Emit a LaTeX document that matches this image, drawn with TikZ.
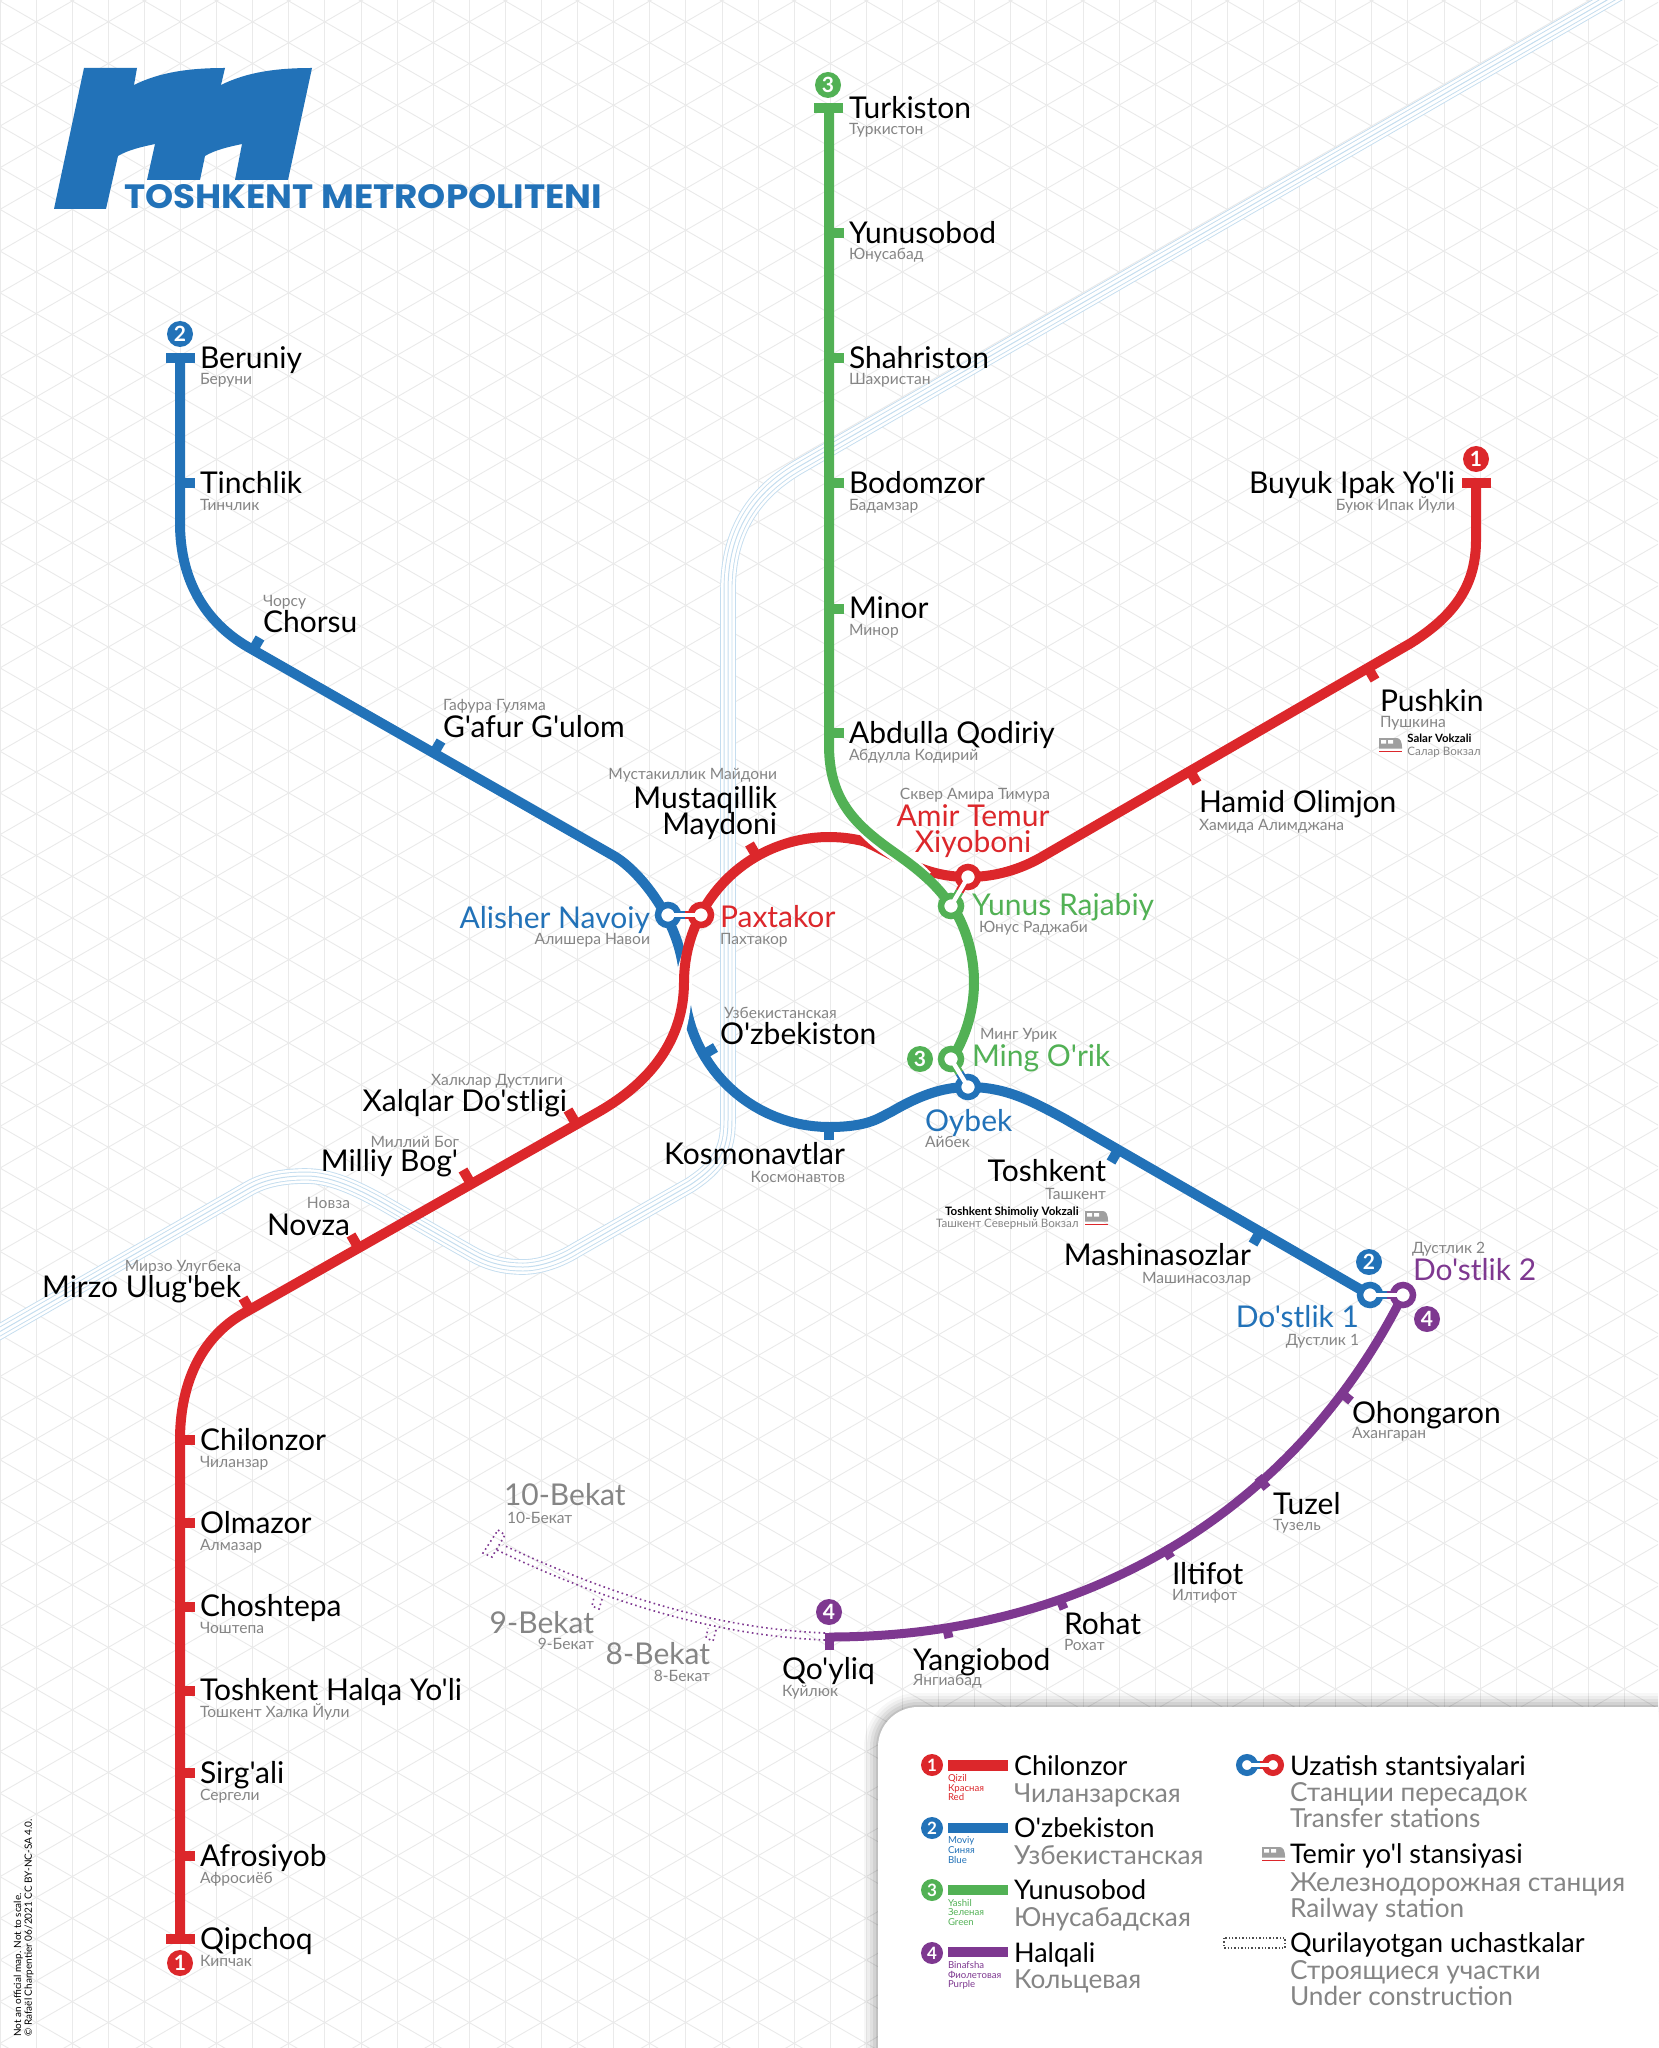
\documentclass[tikz,border=0pt]{standalone}
\usepackage{graphicx}
\usepackage{fontspec}
\setmainfont{Lato}[Ligatures=TeXOff]
\newfontfamily\logofont{Poppins}
\usetikzlibrary{calc}
\definecolor{tred}{HTML}{DC272B}
\definecolor{tblue}{HTML}{2272B8}
\definecolor{tgreen}{HTML}{52B155}
\definecolor{tpurple}{HTML}{7E3890}
\definecolor{tgray}{HTML}{858585}
\definecolor{gridc}{HTML}{EAEAEA}
\definecolor{riverc}{HTML}{C4DDEF}
\tikzset{
  nm/.style={inner sep=0,outer sep=0,font=\fontsize{15pt}{15pt}\selectfont,text=black},
  lgnm/.style={inner sep=0,outer sep=0,font=\fontsize{13.5pt}{14pt}\selectfont,text=black},
  sb/.style={inner sep=0,outer sep=0,font=\fontsize{7.8pt}{8pt}\selectfont,text=tgray},
  lgru/.style={inner sep=0,outer sep=0,font=\fontsize{13.1pt}{14pt}\selectfont,text=tgray},
  lgmini/.style={inner sep=0,outer sep=0,font=\fontsize{4.8pt}{5pt}\selectfont},
  bul/.style={circle,fill=#1,inner sep=0,outer sep=0,minimum size=13pt,text=white,font=\fontsize{10.5pt}{11pt}\selectfont\bfseries},
  bulsmall/.style={circle,fill=#1,inner sep=0,outer sep=0,minimum size=11pt,text=white,font=\fontsize{8.5pt}{9pt}\selectfont\bfseries},
  ring/.style={circle,draw=#1,fill=white,line width=3.25pt,inner sep=0,outer sep=0,minimum size=10pt},
  metro/.style={draw=#1,line width=5pt},
  stick/.style={draw=#1,line width=5pt},
  pstick/.style={draw=tpurple,line width=4.5pt},
  casing/.style={draw=white,line width=8pt},
  linkcore/.style={draw=white,line width=2.2pt},
  linkedge/.style={draw=#1,line width=4.2pt},
  dots/.style={draw=tpurple,line width=.8pt,dash pattern=on .8pt off 1.6pt},
  riv/.style={draw=riverc,line width=#1,line join=round},
  rivw/.style={draw=white,line width=#1,line join=round},
}
\newcommand\riverpath{(1640,-19) -- (800,466) .. controls (755,492) and (728,530) .. (728,590) -- (728,1120) .. controls (728,1150) and (720,1165) .. (690,1185) -- (576,1250) .. controls (560,1260) and (540,1267) .. (523,1267) .. controls (490,1267) and (475,1255) .. (460,1247) -- (385,1204) .. controls (355,1187) and (330,1176) .. (306,1176) .. controls (285,1176) and (265,1179) .. (248,1189) -- (-20,1343)}
\newcommand\legendpanel{(878,2070) -- (878,1747) .. controls (878,1725) and (896,1707) .. (918,1707) -- (1680,1707)}
\newcommand\trainicon[2]{%
  \begin{scope}[shift={(#1,#2)}]
    \fill[gray!75] (0,0) -- (18,0) .. controls (21,0) and (23,4) .. (23,9) -- (23,10.5) -- (0,10.5) -- cycle;
    \fill[white] (2,2) rectangle (7,5.5) (9,2) rectangle (14,5.5);
    \fill[tred] (0,12.5) rectangle (23,14);
  \end{scope}}
\begin{document}
\begin{tikzpicture}[x=.5pt,y=-.5pt]
\useasboundingbox (0,0) rectangle (1658,2048);
\clip (0,0) rectangle (1658,2048);
\fill[white] (0,0) rectangle (1658,2048);
% grid
\begin{scope}[draw=gridc,line width=.45pt]
\foreach \k in {0,...,46} {\draw ({36.1*\k},0) -- ({36.1*\k},2048);}
\foreach \k in {-26,...,50} {\draw (-10,{1+.5774*(-82.2)+41.68*\k}) -- (1668,{1+.5774*(1595.8)+41.68*\k});}
\foreach \k in {-2,...,75} {\draw (-10,{1+.5774*(82.2)+41.68*\k}) -- (1668,{1-.5774*(1595.8)+41.68*\k});}
\end{scope}
% river
\draw[riv=7.8pt] \riverpath;
\draw[rivw=6.9pt] \riverpath;
\draw[riv=4.4pt] \riverpath;
\draw[rivw=3.5pt] \riverpath;
\draw[riv=.5pt] \riverpath;
% logo
\fill[tblue] (84,68) -- (137,68) -- (134,85) .. controls (160,72) and (190,68) .. (225,68) -- (221,85) .. controls (247,72) and (277,68) .. (312,68) -- (288,180) -- (235,180) -- (242,144) .. controls (228,147) and (215,150) .. (205,156) -- (200,180) -- (147,180) -- (155,144) .. controls (141,147) and (128,150) .. (118,156) -- (106,209) -- (54,209) -- cycle;
\node[inner sep=0,outer sep=0,anchor=base west,text=tblue] (logotext) at (124,209) {\resizebox{239pt}{12pt}{\logofont\bfseries TOSHKENT METROPOLITENI}};
% blue line
\draw[metro=tblue] (180,358) -- (180,523) .. controls (180,580) and (205,622) .. (248,647) -- (614,856) .. controls (640,871) and (684,925) .. (684,982)
  -- plot[domain=180:90,samples=30] ({829+145*cos(\x)},{982+145*sin(\x)})
  .. controls (870,1127) and (880,1117) .. (891,1112) .. controls (915,1098) and (940,1087) .. (968,1087)
  .. controls (1005,1087) and (1030,1100) .. (1065,1119) -- (1370,1295);
\draw[stick=tblue] (166,358) -- (195,358);
\draw[stick=tblue] (180,483) -- (195,483);
\draw[stick=tblue] (253,650) -- (260,638);
\draw[stick=tblue] (434,753) -- (441,741);
\draw[stick=tblue] (703.4,1054.5) -- (715.5,1047.5);
\draw[stick=tblue] (829,1127) -- (829,1140);
\draw[stick=tblue] (1118,1150) -- (1111,1162);
\draw[stick=tblue] (1260,1232) -- (1253,1244);
% red line
\draw[casing] (694,945) .. controls (686,965) and (684,975) .. (684,982) .. controls (684,1000) and (682,1015) .. (678,1030);
\draw[metro=tred] (1476,483) -- (1476,540) .. controls (1476,585) and (1455,615) .. (1411,643) -- (1040,858)
  .. controls (1015,872) and (990,877) .. (968,877) .. controls (925,877) and (900,858) .. (868,843)
  -- plot[domain=-74.3:-180,samples=40] ({829+145*cos(\x)},{982+145*sin(\x)})
  .. controls (684,1040) and (650,1082) .. (600,1111) -- (244,1313) .. controls (200,1338) and (180,1385) .. (180,1440) -- (180,1940);
\draw[stick=tred] (1462,483) -- (1491,483);
\draw[stick=tred] (1190,771) -- (1197,783);
\draw[stick=tred] (1368,668) -- (1375,680);
\draw[stick=tred] (756.5,856) -- (749.5,844);
\draw[stick=tred] (575,1122) -- (568,1110);
\draw[stick=tred] (470,1182) -- (463,1170);
\draw[stick=tred] (358,1247) -- (351,1235);
\draw[stick=tred] (250,1310) -- (243,1298);
\foreach \y in {1440,1523,1607,1691,1773,1856} {\draw[stick=tred] (180,\y) -- (195,\y);}
\draw[stick=tred] (166,1939) -- (195,1939);
% green line
\draw[casing] (862,825) .. controls (875,840) and (885,846) .. (895,853) .. controls (905,860) and (915,867) .. (925,878);
\draw[metro=tgreen] (829,108) -- (829,745) .. controls (829,800) and (855,825) .. (895,853) .. controls (915,867) and (937,884) .. (951,906)
  -- plot[domain=-32:32,samples=30] ({829+145*cos(\x)},{982+145*sin(\x)});
\draw[stick=tgreen] (814,108) -- (843,108);
\foreach \y in {233,358,483,609,733} {\draw[stick=tgreen] (829,\y) -- (844,\y);}
% purple line
\draw[draw=tpurple,line width=4.5pt] (829,1637) .. controls (1100,1637) and (1300,1500) .. (1403,1295);
\draw[pstick] (829,1633) -- (829,1650);
\draw[pstick] (1340,1392) -- (1351,1401);
\draw[pstick] (1258,1477) -- (1267,1488);
\draw[pstick] (1164,1547) -- (1171,1558);
\draw[pstick] (1059,1597) -- (1064,1609);
\draw[pstick] (946,1625) -- (949,1638);
% under construction
\draw[dots] (825,1633) .. controls (700,1628) and (590,1585) .. (503,1545);
\draw[dots] (825,1640) .. controls (700,1635) and (585,1592) .. (497,1550);
\draw[dots] (498,1530) -- (505,1535) -- (492,1557) -- (483,1553) -- cycle;
\draw[dots] (602,1599) -- (599,1609) -- (592,1606) -- (594,1597);
\draw[dots] (716,1630) -- (713,1641) -- (706,1638) -- (708,1628);
% transfers
\coordinate (linkA) at (684.5,915);
\coordinate (linkB) at (959.5,891.5);
\coordinate (linkC) at (959.5,1073);
\coordinate (linkD) at (1386.5,1295);
\draw[linkedge=tblue] (668,915) -- (linkA);
\draw[linkedge=tred] (linkA) -- (701,915);
\draw[linkedge=tred] (968,877) -- (linkB);
\draw[linkedge=tgreen] (linkB) -- (951,906);
\draw[linkedge=tgreen] (951,1059) -- (linkC);
\draw[linkedge=tblue] (linkC) -- (968,1087);
\draw[linkedge=tblue] (1370,1295) -- (linkD);
\draw[linkedge=tpurple] (linkD) -- (1403,1295);
\node[ring=tblue] (alisher) at (668,915) {};
\node[ring=tred] (paxtakor) at (701,915) {};
\node[ring=tred] (amir) at (968,877) {};
\node[ring=tgreen] (yunus) at (951,906) {};
\node[ring=tgreen] (ming) at (951,1059) {};
\node[ring=tblue] (oybek) at (968,1087) {};
\node[ring=tblue] (dostlikA) at (1370,1295) {};
\node[ring=tpurple] (dostlikB) at (1403,1295) {};
\draw[linkcore] (alisher.center) -- (paxtakor.center);
\draw[linkcore] (amir.center) -- (yunus.center);
\draw[linkcore] (ming.center) -- (oybek.center);
\draw[linkcore] (dostlikA.center) -- (dostlikB.center);
% bullets
\node[bul=tgreen] (bg1) at (828,85) {3};
\node[bul=tblue] (bb1) at (180,334) {2};
\node[bul=tred] (br1) at (1476,459) {1};
\node[bul=tred] (br2) at (180,1963) {1};
\node[bul=tgreen] (bg2) at (920,1059) {3};
\node[bul=tblue] (bb2) at (1369,1262) {2};
\node[bul=tpurple] (bp1) at (1427,1319) {4};
\node[bul=tpurple] (bp2) at (829,1612) {4};
% line 3 labels
\node[nm,anchor=base west] (n1) at (849,119) {Turkiston};
\node[sb,anchor=base west] (s1) at (849,135) {Туркистон};
\node[nm,anchor=base west] (n2) at (849,244) {Yunusobod};
\node[sb,anchor=base west] (s2) at (849,260) {Юнусабад};
\node[nm,anchor=base west] (n3) at (849,369) {Shahriston};
\node[sb,anchor=base west] (s3) at (849,385) {Шахристан};
\node[nm,anchor=base west] (n4) at (849,494) {Bodomzor};
\node[sb,anchor=base west] (s4) at (849,510) {Бадамзар};
\node[nm,anchor=base west] (n5) at (849,618) {Minor};
\node[sb,anchor=base west] (s5) at (849,635) {Минор};
\node[nm,anchor=base west] (n6) at (849,743) {Abdulla Qodiriy};
\node[sb,anchor=base west] (s6) at (849,760) {Абдулла Кодирий};
% line 2 labels
\node[nm,anchor=base west] (n7) at (200,369) {Beruniy};
\node[sb,anchor=base west] (s7) at (200,385) {Беруни};
\node[nm,anchor=base west] (n8) at (200,494) {Tinchlik};
\node[sb,anchor=base west] (s8) at (200,510) {Тинчлик};
\node[nm,anchor=base west] (n9) at (263,632) {Chorsu};
\node[sb,anchor=base west] (s9) at (263,606) {Чорсу};
\node[nm,anchor=base west] (n10) at (443,737) {G'afur G'ulom};
\node[sb,anchor=base west] (s10) at (443,710) {Гафура Гуляма};
\node[nm,anchor=base east,text=tblue] (n11) at (650,928) {Alisher Navoiy};
\node[sb,anchor=base east] (s11) at (650,944) {Алишера Навои};
\node[nm,anchor=base west] (n12) at (720,1044) {O'zbekiston};
\node[sb,anchor=base west] (s12) at (724,1018) {Узбекистанская};
\node[nm,anchor=base east] (n13) at (845,1164) {Kosmonavtlar};
\node[sb,anchor=base east] (s13) at (845,1182) {Космонавтов};
\node[nm,anchor=base west,text=tblue] (n14) at (925,1131) {Oybek};
\node[sb,anchor=base west] (s14) at (925,1147) {Айбек};
\node[nm,anchor=base east] (n15) at (1106,1181) {Toshkent};
\node[sb,anchor=base east] (s15) at (1106,1199) {Ташкент};
\node[inner sep=0,anchor=base east,font=\fontsize{5.8pt}{6pt}\selectfont\bfseries] (n16) at (1079,1215) {Toshkent Shimoliy Vokzali};
\node[inner sep=0,anchor=base east,text=tgray,font=\fontsize{5.8pt}{6pt}\selectfont] (s16) at (1079,1227) {Ташкент Северный Вокзал};
\trainicon{1085}{1211}
\node[nm,anchor=base east] (n17) at (1251,1265) {Mashinasozlar};
\node[sb,anchor=base east] (s17) at (1251,1283) {Машинасозлар};
\node[nm,anchor=base east,text=tblue] (n18) at (1359,1327) {Do'stlik 1};
\node[sb,anchor=base east] (s18) at (1359,1345) {Дустлик 1};
% line 1 labels
\node[nm,anchor=base east] (n19) at (1455,494) {Buyuk Ipak Yo'li};
\node[sb,anchor=base east] (s19) at (1455,510) {Буюк Ипак Йули};
\node[nm,anchor=base west] (n20) at (1380,711) {Pushkin};
\node[sb,anchor=base west] (s20) at (1380,727) {Пушкина};
\node[inner sep=0,anchor=base west,font=\fontsize{5.7pt}{6pt}\selectfont\bfseries] (n21) at (1407,742) {Salar Vokzali};
\node[inner sep=0,anchor=base west,text=tgray,font=\fontsize{5.8pt}{6pt}\selectfont] (s21) at (1407,755) {Салар Вокзал};
\trainicon{1379}{738}
\node[nm,anchor=base west] (n22) at (1199,812) {Hamid Olimjon};
\node[sb,anchor=base west] (s22) at (1199,830) {Хамида Алимджана};
\node[nm,anchor=base,text=tred] (n23) at (973,826) {Amir Temur};
\node[nm,anchor=base,text=tred] (n24) at (973,852) {Xiyoboni};
\node[sb,anchor=base] (s23) at (975,799) {Сквер Амира Тимура};
\node[nm,anchor=base east] (n25) at (777,808) {Mustaqillik};
\node[nm,anchor=base east] (n26) at (777,834) {Maydoni};
\node[sb,anchor=base east] (s25) at (777,779) {Мустакиллик Майдони};
\node[nm,anchor=base west,text=tred] (n27) at (720,927) {Paxtakor};
\node[sb,anchor=base west] (s27) at (720,944) {Пахтакор};
\node[nm,anchor=base east] (n28) at (567,1111) {Xalqlar Do'stligi};
\node[sb,anchor=base east] (s28) at (563,1085) {Халклар Дустлиги};
\node[nm,anchor=base east] (n29) at (458,1171) {Milliy Bog'};
\node[sb,anchor=base east] (s29) at (459,1147) {Миллий Бог};
\node[nm,anchor=base east] (n30) at (350,1235) {Novza};
\node[sb,anchor=base east] (s30) at (350,1208) {Новза};
\node[nm,anchor=base east] (n31) at (241,1297) {Mirzo Ulug'bek};
\node[sb,anchor=base east] (s31) at (241,1271) {Мирзо Улугбека};
\node[nm,anchor=base west] (n32) at (200,1450) {Chilonzor};
\node[sb,anchor=base west] (s32) at (200,1467) {Чиланзар};
\node[nm,anchor=base west] (n33) at (200,1533) {Olmazor};
\node[sb,anchor=base west] (s33) at (200,1550) {Алмазар};
\node[nm,anchor=base west] (n34) at (200,1616) {Choshtepa};
\node[sb,anchor=base west] (s34) at (200,1633) {Чоштепа};
\node[nm,anchor=base west] (n35) at (200,1700) {Toshkent Halqa Yo'li};
\node[sb,anchor=base west] (s35) at (200,1717) {Тошкент Халка Йули};
\node[nm,anchor=base west] (n36) at (200,1783) {Sirg'ali};
\node[sb,anchor=base west] (s36) at (200,1800) {Сергели};
\node[nm,anchor=base west] (n37) at (200,1866) {Afrosiyob};
\node[sb,anchor=base west] (s37) at (200,1883) {Афросиёб};
\node[nm,anchor=base west] (n38) at (200,1949) {Qipchoq};
\node[sb,anchor=base west] (s38) at (200,1966) {Кипчак};
% line 3 ring labels
\node[nm,anchor=base west,text=tgreen] (n39) at (972,915) {Yunus Rajabiy};
\node[sb,anchor=base west] (s39) at (979,932) {Юнус Раджаби};
\node[nm,anchor=base west,text=tgreen] (n40) at (972,1066) {Ming O'rik};
\node[sb,anchor=base west] (s40) at (980,1039) {Минг Урик};
% line 4 labels
\node[nm,anchor=base west,text=tpurple] (n41) at (1413,1280) {Do'stlik 2};
\node[sb,anchor=base west] (s41) at (1412,1253) {Дустлик 2};
\node[nm,anchor=base west] (n42) at (1352,1423) {Ohongaron};
\node[sb,anchor=base west] (s42) at (1352,1438) {Ахангаран};
\node[nm,anchor=base west] (n43) at (1273,1514) {Tuzel};
\node[sb,anchor=base west] (s43) at (1273,1530) {Тузель};
\node[nm,anchor=base west] (n44) at (1172,1584) {Iltifot};
\node[sb,anchor=base west] (s44) at (1172,1600) {Илтифот};
\node[nm,anchor=base west] (n45) at (1064,1634) {Rohat};
\node[sb,anchor=base west] (s45) at (1064,1650) {Рохат};
\node[nm,anchor=base west] (n46) at (913,1670) {Yangiobod};
\node[sb,anchor=base west] (s46) at (913,1685) {Янгиабад};
\node[nm,anchor=base west] (n47) at (782,1679) {Qo'yliq};
\node[sb,anchor=base west] (s47) at (782,1696) {Куйлюк};
\node[nm,anchor=base west,text=tgray] (n48) at (504,1505) {10-Bekat};
\node[sb,anchor=base west] (s48) at (507,1523) {10-Бекат};
\node[nm,anchor=base east,text=tgray] (n49) at (594,1633) {9-Bekat};
\node[sb,anchor=base east] (s49) at (594,1649) {9-Бекат};
\node[nm,anchor=base east,text=tgray] (n50) at (710,1664) {8-Bekat};
\node[sb,anchor=base east] (s50) at (710,1681) {8-Бекат};
% copyright
\node[inner sep=0,anchor=base west,rotate=90,font=\fontsize{5pt}{6pt}\selectfont] (c1) at (21,2037) {Not an official map. Not to scale.};
\node[inner sep=0,anchor=base west,rotate=90,font=\fontsize{5pt}{6pt}\selectfont] (c2) at (32,2037) {© Rafaël Charpentier 06/2021 CC BY-NC-SA 4.0.};
% legend panel
\foreach \w/\o in {14/.03,11/.04,8/.05,5/.06,2/.08} {
  \draw[black,opacity=\o,line width=\w pt] \legendpanel;
}
\fill[white] \legendpanel -- (1680,2070) -- cycle;
% legend left
\node[bulsmall=tred] (l1) at (932,1765) {1};
\fill[tred] (948,1760) rectangle (1008,1771);
\node[lgmini,anchor=base west,text=tred] (l1a) at (948,1781) {Qizil};
\node[lgmini,anchor=base west,text=tred] (l1b) at (948,1791) {Красная};
\node[lgmini,anchor=base west,text=tred] (l1c) at (948,1800) {Red};
\node[lgnm,anchor=base west] (l1n) at (1014,1775) {Chilonzor};
\node[lgru,anchor=base west] (l1s) at (1014,1802) {Чиланзарская};
\node[bulsmall=tblue] (l2) at (932,1828) {2};
\fill[tblue] (948,1823) rectangle (1008,1833);
\node[lgmini,anchor=base west,text=tblue] (l2a) at (948,1843) {Moviy};
\node[lgmini,anchor=base west,text=tblue] (l2b) at (948,1853) {Синяя};
\node[lgmini,anchor=base west,text=tblue] (l2c) at (948,1863) {Blue};
\node[lgnm,anchor=base west] (l2n) at (1014,1837) {O'zbekiston};
\node[lgru,anchor=base west] (l2s) at (1014,1864) {Узбекистанская};
\node[bulsmall=tgreen] (l3) at (932,1890) {3};
\fill[tgreen] (948,1885) rectangle (1008,1895);
\node[lgmini,anchor=base west,text=tgreen] (l3a) at (948,1906) {Yashil};
\node[lgmini,anchor=base west,text=tgreen] (l3b) at (948,1915) {Зеленая};
\node[lgmini,anchor=base west,text=tgreen] (l3c) at (948,1925) {Green};
\node[lgnm,anchor=base west] (l3n) at (1014,1899) {Yunusobod};
\node[lgru,anchor=base west] (l3s) at (1014,1926) {Юнусабадская};
\node[bulsmall=tpurple] (l4) at (932,1953) {4};
\fill[tpurple] (948,1947) rectangle (1008,1957);
\node[lgmini,anchor=base west,text=tpurple] (l4a) at (948,1968) {Binafsha};
\node[lgmini,anchor=base west,text=tpurple] (l4b) at (948,1978) {Фиолетовая};
\node[lgmini,anchor=base west,text=tpurple] (l4c) at (948,1987) {Purple};
\node[lgnm,anchor=base west] (l4n) at (1014,1962) {Halqali};
\node[lgru,anchor=base west] (l4s) at (1014,1988) {Кольцевая};
% legend right
\draw[linkedge=tblue] (1247,1765) -- (1260,1765);
\draw[linkedge=tred] (1260,1765) -- (1273,1765);
\node[ring=tblue,minimum size=8pt,line width=3pt] (ia) at (1247,1765) {};
\node[ring=tred,minimum size=8pt,line width=3pt] (ib) at (1273,1765) {};
\draw[linkcore] (ia.center) -- (ib.center);
\node[lgnm,anchor=base west] (r1) at (1290,1775) {Uzatish stantsiyalari};
\node[lgru,anchor=base west] (r1a) at (1290,1801) {Станции пересадок};
\node[lgru,anchor=base west] (r1b) at (1290,1827) {Transfer stations};
\trainicon{1262}{1847}
\node[lgnm,anchor=base west] (r2) at (1290,1863) {Temir yo'l stansiyasi};
\node[lgru,anchor=base west] (r2a) at (1290,1891) {Железнодорожная станция};
\node[lgru,anchor=base west] (r2b) at (1290,1917) {Railway station};
\draw[black!70,line width=.6pt,dash pattern=on .7pt off 1pt] (1224,1938) rectangle (1285,1948);
\node[lgnm,anchor=base west] (r3) at (1290,1952) {Qurilayotgan uchastkalar};
\node[lgru,anchor=base west] (r3a) at (1290,1979) {Строящиеся участки};
\node[lgru,anchor=base west] (r3b) at (1290,2005) {Under construction};
\end{tikzpicture}
\end{document}
